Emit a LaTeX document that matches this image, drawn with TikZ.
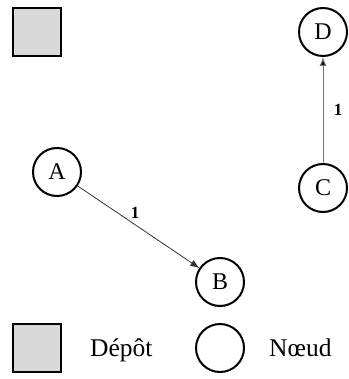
\documentclass[tikz,border=0pt]{standalone}
\usepackage{fontspec}
\setmainfont{Liberation Serif}
\usetikzlibrary{arrows.meta}
\definecolor{depotfill}{HTML}{D9D9D9}
\definecolor{edgegray}{HTML}{707070}
\tikzset{
  depot/.style={draw=black, line width=2.4pt, fill=depotfill, minimum size=48pt, inner sep=0pt},
  noeud/.style={circle, draw=black, line width=2pt, minimum size=48pt, inner sep=0pt, font=\fontsize{24}{26}\selectfont},
  edge/.style={-{Latex[length=9pt,width=7pt]}, line width=0.8pt},
  wlabel/.style={font=\fontsize{17}{18}\selectfont\bfseries, inner sep=0pt},
  legendtext/.style={font=\fontsize{25.5}{27}\selectfont, inner sep=0pt}
}
\begin{document}
\begin{tikzpicture}[x=1pt,y=-1pt]
\useasboundingbox (0,0) rectangle (348,379);
\node[depot] (dep) at (37,32) {};
\node[noeud] (D) at (323,32) {D};
\node[noeud] (C) at (323,188) {C};
\node[noeud] (A) at (57,172) {A};
\node[noeud] (B) at (220,282) {B};
\draw[edge, draw=edgegray, line width=1pt, -{Latex[length=9pt,width=7pt,fill=black]}] (C) -- node[wlabel, midway, xshift=15pt] (l1) {1} (D);
\draw[edge, draw=black!80] (A) -- node[wlabel, midway, xshift=-3.5pt, yshift=14pt] (l2) {1} (B);
\node[depot] (ldep) at (37,348) {};
\node[legendtext, anchor=base west] (tdep) at (90,356) {Dépôt};
\node[noeud] (lnoeud) at (220,348) {};
\node[legendtext, anchor=base west] (tnoeud) at (269,356) {Nœud};
\end{tikzpicture}
\end{document}
